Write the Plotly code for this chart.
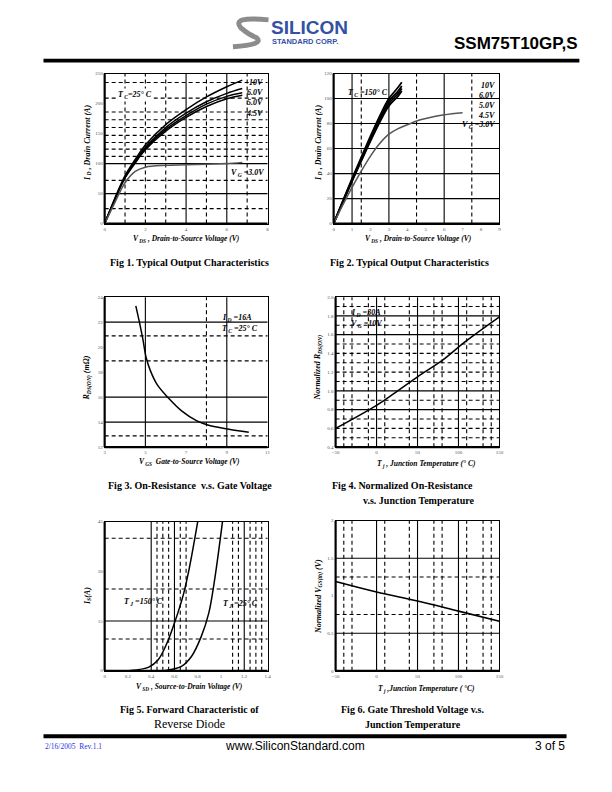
import plotly.graph_objects as go

W, H = 612, 792

# ---------------- data ----------------
# Fig 1  (Tc = 25 C)
f1_vds = [0, 0.5, 1, 1.5, 2, 3, 4, 5, 6, 6.76]
f1_10v = [0, 42, 80, 107, 131, 165, 190, 211, 228, 239]
f1_6v = [0, 41, 78, 104, 127, 160, 184, 203, 217, 225]
f1_5v = [0, 40, 77, 102, 125, 157, 180, 199, 212, 218]
f1_45v = [0, 40, 76, 101, 123, 154, 177, 195, 208, 214]
f1_3v = [0, 35, 68, 87, 94, 97, 98, 99, 100, 102]
f1_xticks = [0, 2, 4, 6, 8]
f1_yticks = [0, 50, 100, 150, 200, 250]

# Fig 2  (Tc = 150 C)
f2_vds = [0, 0.5, 1, 1.5, 2, 2.5, 3, 3.5, 3.7]
f2_10v = [0, 18, 36, 53, 70, 86, 100, 109, 113]
f2_6v = [0, 18, 35, 52, 68, 84, 98, 106, 110]
f2_5v = [0, 17, 34, 51, 67, 82, 96, 104, 108]
f2_45v = [0, 17, 34, 50, 66, 81, 94, 102, 106]
f2_vds3 = [0, 0.5, 1, 1.5, 2, 2.5, 3, 3.5, 4, 4.5, 5, 6, 7]
f2_3v = [0, 15, 29, 42, 54, 64, 71.5, 76, 79, 82, 84, 87, 88.7]
f2_xticks = [0, 1, 2, 3, 4, 5, 6, 7, 8, 9]
f2_yticks = [0, 20, 40, 60, 80, 100, 120]

# Fig 3  (Rds(on) vs Vgs)
f3_vgs = [4.53, 4.72, 4.88, 5.04, 5.25, 5.58, 6.11, 6.78, 7.51, 8.07, 9.04, 10.08]
f3_rds = [23.3, 21.9, 20.6, 19.15, 18.1, 17.0, 15.97, 14.9, 14.12, 13.77, 13.46, 13.19]
f3_xticks = [3, 5, 7, 9, 11]
f3_yticks = [12, 14, 16, 18, 20, 22, 24]

# Fig 4  (normalized Rds(on) vs Tj)
f4_tj = [-50, 0, 21, 50, 81, 109, 150]
f4_rn = [0.60, 0.846, 0.97, 1.15, 1.33, 1.53, 1.79]
f4_xticks = [-50, 0, 50, 100, 150]
f4_yticks = [0.4, 0.6, 0.8, 1.0, 1.2, 1.4, 1.6, 1.8, 2.0]

# Fig 5  (body diode)
f5_vsd150 = [0.22, 0.38, 0.46, 0.535, 0.6, 0.676, 0.73, 0.80]
f5_is150 = [0.1, 1.1, 3.3, 8.3, 14.4, 22.9, 31.4, 45]
f5_vsd25 = [0.51, 0.66, 0.746, 0.83, 0.895, 0.945, 1.013]
f5_is25 = [0, 1.3, 4.3, 10.3, 17.4, 27.4, 45]
f5_xticks = [0, 0.2, 0.4, 0.6, 0.8, 1, 1.2, 1.4]
f5_xlabels = ["0", "0.2", "0.4", "0.6", "0.8", "1", "1.2", "1.4"]
f5_yticks = [0, 15, 30, 45]

# Fig 6  (normalized Vgs(th) vs Tj)
f6_tj = [-50, 0, 50, 100, 150]
f6_vth = [1.19, 1.05, 0.93, 0.795, 0.66]
f6_xticks = [-50, 0, 50, 100, 150]
f6_yticks = [0, 0.5, 1, 1.5, 2]
f6_ylabels = ["0", "0.5", "1", "1.5", "2"]

# ---------------- helpers ----------------
def fx(p):
    return p / W

def fy(p):
    return 1 - p / H

SERIF = "Liberation Serif"
SANS = "Liberation Sans"

fig = go.Figure()
shapes = []
annots = []

panels = [
    dict(box=(102, 72, 267, 223), xr=[0, 8], yr=[0, 250], xt=f1_xticks, yt=f1_yticks,
         vs=[4, 6], vd=[1, 2, 3, 5, 7], hs=[50, 100],
         hd=[25, 72, 112, 124, 135, 147, 160, 173, 186, 209, 235]),
    dict(box=(334, 72, 502, 223), xr=[0, 9], yr=[0, 120], xt=f2_xticks, yt=f2_yticks,
         vs=[1, 3, 6], vd=[1.5, 4.5, 7.5], hs=[20, 40, 60, 80, 100], hd=[]),
    dict(box=(102, 297, 267, 448), xr=[3, 11], yr=[12, 24], xt=f3_xticks, yt=f3_yticks,
         vs=[5, 9], vd=[8], hs=[14, 16, 22], hd=[12.9, 18.9, 20.9]),
    dict(box=(336, 297, 502, 448), xr=[-50, 150], yr=[0.4, 2.0], xt=f4_xticks, yt=f4_yticks,
         vs=[0, 50, 100], vd=[-40, -30, -10, 10, 40, 70, 80, 110, 130, 140],
         hs=[0.8, 1.0, 1.6, 1.8], hd=[0.5, 0.6, 0.7, 0.9, 1.1, 1.2, 1.3, 1.4, 1.5, 1.7, 1.9],
         yfmt=".1f"),
    dict(box=(102, 523, 267, 673), xr=[0, 1.4], yr=[0, 45], xt=f5_xticks, yt=f5_yticks,
         xl=f5_xlabels,
         vs=[0.4, 0.6, 1.2], vd=[0.45, 0.5, 0.55, 0.65, 0.7, 1.1, 1.15, 1.25, 1.3, 1.35],
         hs=[15], hd=[9.6, 24.7, 40]),
    dict(box=(336, 522, 502, 673), xr=[-50, 150], yr=[0, 2], xt=f6_xticks, yt=f6_yticks,
         yl=f6_ylabels,
         vs=[0, 50, 100], vd=[-40, -30, 10, 40, 70, 80, 110, 130, 140],
         hs=[0.5, 1.5], hd=[0.75, 1.25]),
]

tickfont = dict(family=SERIF, size=5, color="#555555")
layout_axes = {}
for i, p in enumerate(panels, start=1):
    sx = "" if i == 1 else str(i)
    xn, yn = "x" + sx, "y" + sx
    l, t, r, b = p["box"]
    xa = dict(domain=[fx(l), fx(r)], range=p["xr"], anchor=yn, tickvals=p["xt"],
              showgrid=False, zeroline=False, showline=True, mirror=True,
              linecolor="black", linewidth=1, ticks="", tickfont=tickfont,
              fixedrange=True)
    if "xl" in p:
        xa["ticktext"] = p["xl"]
    ya = dict(domain=[fy(b), fy(t)], range=p["yr"], anchor=xn, tickvals=p["yt"],
              showgrid=False, zeroline=False, showline=True, mirror=True,
              linecolor="black", linewidth=1, ticks="", tickfont=tickfont,
              fixedrange=True)
    if "yl" in p:
        ya["ticktext"] = p["yl"]
    if "yfmt" in p:
        ya["tickformat"] = p["yfmt"]
    layout_axes["xaxis" + sx] = xa
    layout_axes["yaxis" + sx] = ya
    p["xn"], p["yn"] = xn, yn
    for v in p["vs"] + p["vd"]:
        shapes.append(dict(type="line", xref=xn, yref=yn + " domain", x0=v, x1=v, y0=0, y1=1,
                           line=dict(color="black", width=1.1,
                                     dash="solid" if v in p["vs"] else "4px,3px"), layer="below"))
    for v in p["hs"] + p["hd"]:
        shapes.append(dict(type="line", xref=xn + " domain", yref=yn, x0=0, x1=1, y0=v, y1=v,
                           line=dict(color="black", width=1.1,
                                     dash="solid" if v in p["hs"] else "4px,3px"), layer="below"))
    # heavy left / bottom frame
    shapes.append(dict(type="line", xref=xn + " domain", yref=yn + " domain",
                       x0=0, x1=0, y0=0, y1=1, line=dict(color="black", width=2.2)))
    shapes.append(dict(type="line", xref=xn + " domain", yref=yn + " domain",
                       x0=0, x1=1, y0=0, y1=0, line=dict(color="black", width=2.2)))


def add_line(px_, xs, ys, color="black", width=1.5):
    fig.add_trace(go.Scatter(x=xs, y=ys, mode="lines", xaxis=px_["xn"], yaxis=px_["yn"],
                             line=dict(color=color, width=width, shape="spline"),
                             showlegend=False, hoverinfo="skip"))


p1, p2, p3, p4, p5, p6 = panels
for ys in (f1_10v, f1_6v, f1_5v, f1_45v):
    add_line(p1, f1_vds, ys)
add_line(p1, f1_vds, f1_3v, color="#555555")
for ys in (f2_10v, f2_6v, f2_5v, f2_45v):
    add_line(p2, f2_vds, ys, width=1.8)
add_line(p2, f2_vds3, f2_3v, color="#555555")
add_line(p3, f3_vgs, f3_rds)
add_line(p4, f4_tj, f4_rn)
add_line(p5, f5_vsd150, f5_is150)
add_line(p5, f5_vsd25, f5_is25)
add_line(p6, f6_tj, f6_vth, width=1.6)


def txt(x, y, s, size=8, bold=True, italic=True, anchor="left", angle=0, family=SERIF,
        color="black", bg=None):
    a = dict(x=fx(x), y=fy(y), xref="paper", yref="paper", text=s, showarrow=False,
             xanchor=anchor, yanchor="middle", textangle=angle,
             font=dict(family=family, size=size, color=color,
                       weight="bold" if bold else "normal",
                       style="italic" if italic else "normal"))
    if bg:
        a["bgcolor"] = bg
    annots.append(a)


# in-plot labels
txt(113, 94, "T<sub> C</sub>=25° C", 8, bg="white")
txt(264, 81, "10V", 8, anchor="right")
txt(264, 91, "6.0V", 8, anchor="right")
txt(264, 101, "5.0V", 8, anchor="right")
txt(264, 112, "4.5V", 8, anchor="right")
txt(228, 172, "V<sub> G</sub> =3.0V", 8)

txt(347, 92, "T<sub> C</sub> =150° C", 8)
txt(500, 84, "10V", 8, anchor="right")
txt(500, 94, "6.0V", 8, anchor="right")
txt(500, 104, "5.0V", 8, anchor="right")
txt(500, 114, "4.5V", 8, anchor="right")
txt(500, 124, "V<sub> G</sub> =3.0V", 8, anchor="right")

txt(219, 318, "I<sub> D</sub> =16A", 8)
txt(219, 329, "T<sub> C</sub> =25° C", 8)

txt(350, 313, "I<sub> D</sub> =30A", 8)
txt(350, 324, "V<sub> G</sub> =10V", 8)

txt(120, 604, "T<sub> J</sub> =150° C", 8)
txt(220, 606, "T<sub> J</sub> =25° C", 8)

# axis titles
txt(185, 239, "V<sub> DS</sub> , Drain-to-Source Voltage (V)", 7.5, anchor="center")
txt(85, 142, "I<sub> D</sub> , Drain Current (A)", 8, anchor="center", angle=-90)
txt(420, 239, "V<sub> DS</sub> , Drain-to-Source Voltage (V)", 7.5, anchor="center")
txt(319, 142, "I<sub> D</sub> , Drain Current (A)", 8, anchor="center", angle=-90)
txt(188, 463, "V<sub> GS</sub>  Gate-to-Source Voltage (V)", 7.5, anchor="center")
txt(85, 378, "R<sub>DS(ON)</sub> (mΩ)", 8, anchor="center", angle=-90)
txt(428, 465, "T<sub> j</sub> , Junction Temperature (° C)", 7.5, anchor="center")
txt(319, 368, "Normalized R<sub>DS(ON)</sub>", 8, anchor="center", angle=-90)
txt(188, 689, "V<sub> SD</sub> , Source-to-Drain Voltage (V)", 7.5, anchor="center")
txt(85, 598, "I<sub>S</sub>(A)", 8, anchor="center", angle=-90)
txt(428, 691, "T<sub> j</sub> ,Junction Temperature ( °C)", 7.5, anchor="center")
txt(319, 598, "Normalized V<sub>GS(th)</sub> (V)", 8, anchor="center", angle=-90)

# captions
txt(188, 262, "Fig 1. Typical Output Characteristics", 10, italic=False, anchor="center")
txt(411, 262, "Fig 2. Typical Output Characteristics", 10, italic=False, anchor="center")
txt(188, 487, "Fig 3. On-Resistance  v.s. Gate Voltage", 10, italic=False, anchor="center")
txt(404, 487, "Fig 4. Normalized On-Resistance", 10, italic=False, anchor="center")
txt(420, 502, "v.s. Junction Temperature", 10, italic=False, anchor="center")
txt(188, 712, "Fig 5. Forward Characteristic of", 10, italic=False, anchor="center")
txt(188, 727, "Reverse Diode", 12, bold=False, italic=False, anchor="center")
txt(414, 712, "Fig 6. Gate Threshold Voltage v.s.", 10, italic=False, anchor="center")
txt(414, 727, "Junction Temperature", 10, italic=False, anchor="center")

# header
txt(583, 42, "SSM75T10GP,S", 17, italic=False, anchor="right", family=SANS)
txt(269, 26, "SILICON", 19, italic=False, family=SANS, color="#3451a3")
txt(270, 40, "STANDARD CORP.", 7.5, italic=False, family=SANS, color="#3451a3")

# footer
txt(40, 749, "2/16/2005  Rev.1.1", 7.5, bold=False, italic=False, color="#3333dd")
txt(295, 749, "www.SiliconStandard.com", 12, bold=False, italic=False, anchor="center",
    family=SANS)
txt(570, 749, "3 of 5", 12, bold=False, italic=False, anchor="right", family=SANS)

# page rules
shapes.append(dict(type="rect", xref="paper", yref="paper", x0=fx(40), x1=fx(583),
                   y0=fy(61), y1=fy(57), fillcolor="black", line=dict(width=0)))
shapes.append(dict(type="rect", xref="paper", yref="paper", x0=fx(40), x1=fx(570),
                   y0=fy(741), y1=fy(737), fillcolor="black", line=dict(width=0)))

# logo swoosh
def pt(x, y):
    return f"{fx(x):.5f},{fy(y):.5f}"

swoosh = ("M " + pt(268, 18) + " Q " + pt(230, 14) + " " + pt(240, 26) +
          " Q " + pt(248, 33) + " " + pt(256, 36) + " Q " + pt(264, 43) + " " + pt(232, 45))
shapes.append(dict(type="path", xref="paper", yref="paper", path=swoosh,
                   line=dict(color="#8c8c8c", width=5)))

fig.update_layout(width=W, height=H, margin=dict(l=0, r=0, t=0, b=0),
                  paper_bgcolor="white", plot_bgcolor="white",
                  shapes=shapes, annotations=annots, showlegend=False, **layout_axes)

fig.write_html("out.html", config={"displayModeBar": False},
               post_script="document.body.style.margin='0';"
                           "document.body.style.overflow='hidden';")
